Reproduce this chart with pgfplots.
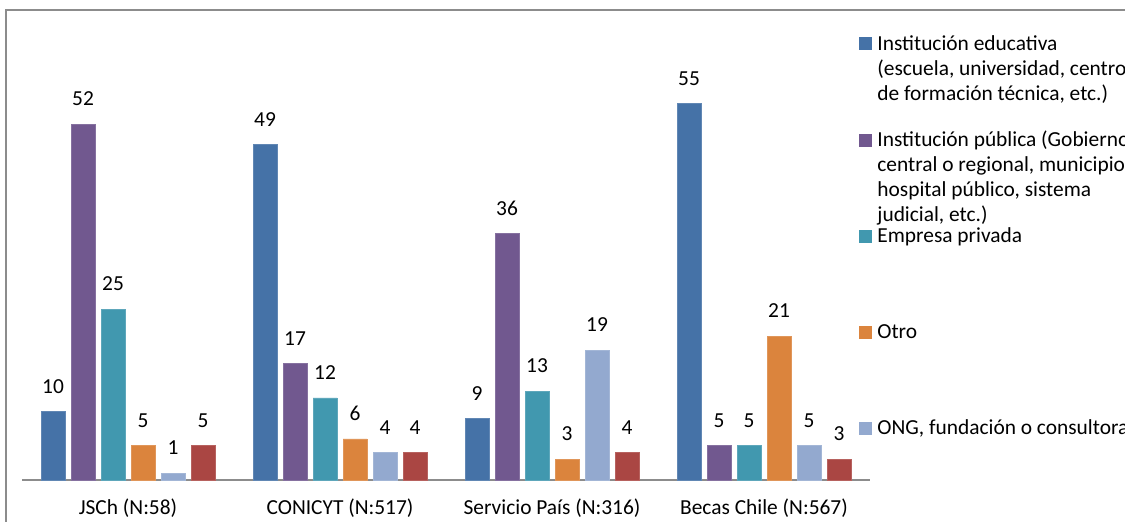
\documentclass[border=0pt]{standalone}
\usepackage{fontspec}
\setmainfont{Carlito}
\usepackage{pgfplots}
\pgfplotsset{compat=1.18}

\definecolor{cEdu}{HTML}{4572A7}
\definecolor{cPub}{HTML}{71588F}
\definecolor{cEmp}{HTML}{4198AF}
\definecolor{cOtro}{HTML}{DB843D}
\definecolor{cOng}{HTML}{93A9CF}
\definecolor{cRed}{HTML}{AA4643}

\begin{document}
\begin{tikzpicture}[font=\fontsize{10.7}{12.5}\selectfont]
\useasboundingbox (-11pt,-20.5pt) rectangle (551.5pt,240pt);
% chart frame (only left and top edges are visible)
\draw[black!45, line width=1pt] (-8pt,-25pt) -- (-8pt,235pt) -- (560pt,235pt);

\begin{axis}[
  at={(0,0)}, anchor=south west, scale only axis,
  width=424pt, height=205.2pt,
  xmin=-0.5, xmax=3.5, ymin=0, ymax=60,
  ybar=3pt, bar width=12pt,
  axis y line=none, axis x line*=bottom,
  x axis line style={black!45, line width=1pt},
  xtick=data, major tick length=0pt,
  xticklabels={JSCh (N:58), CONICYT (N:517), Servicio País (N:316), Becas Chile (N:567)},
  xticklabel style={yshift=-6pt},
  /pgf/number format/assume math mode=true,
  nodes near coords,
  every node near coord/.append style={anchor=south, inner sep=0pt, yshift=9pt, black},
  clip=false,
]
\addplot[fill=cEdu, draw=cEdu!85!white, line width=0.4pt]  coordinates {(0,10) (1,49) (2,9)  (3,55)};
\addplot[fill=cPub, draw=cPub!85!white, line width=0.4pt]  coordinates {(0,52) (1,17) (2,36) (3,5)};
\addplot[fill=cEmp, draw=cEmp!85!white, line width=0.4pt]  coordinates {(0,25) (1,12) (2,13) (3,5)};
\addplot[fill=cOtro, draw=cOtro!85!white, line width=0.4pt] coordinates {(0,5)  (1,6)  (2,3)  (3,21)};
\addplot[fill=cOng, draw=cOng!85!white, line width=0.4pt]  coordinates {(0,1)  (1,4)  (2,19) (3,5)};
\addplot[fill=cRed, draw=cRed!85!white, line width=0.4pt]  coordinates {(0,5)  (1,4)  (2,4)  (3,3)};
\end{axis}

% legend
\fill[cEdu]  (418.5pt,214.75pt) rectangle ++(6.5pt,6.5pt);
\node[anchor=base west, inner sep=0pt] at (427.5pt,214.6pt) {Institución educativa};
\node[anchor=base west, inner sep=0pt] at (427.5pt,202.1pt) {(escuela, universidad, centro};
\node[anchor=base west, inner sep=0pt] at (427.5pt,189.6pt) {de formación técnica, etc.)};

\fill[cPub]  (418.5pt,166.75pt) rectangle ++(6.5pt,6.5pt);
\node[anchor=base west, inner sep=0pt] at (427.5pt,166.6pt) {Institución pública (Gobierno};
\node[anchor=base west, inner sep=0pt] at (427.5pt,154.1pt) {central o regional, municipio,};
\node[anchor=base west, inner sep=0pt] at (427.5pt,141.6pt) {hospital público, sistema};
\node[anchor=base west, inner sep=0pt] at (427.5pt,129.1pt) {judicial, etc.)};

\fill[cEmp]  (418.5pt,118.75pt) rectangle ++(6.5pt,6.5pt);
\node[anchor=base west, inner sep=0pt] at (427.5pt,118.6pt) {Empresa privada};

\fill[cOtro] (418.5pt,70.75pt) rectangle ++(6.5pt,6.5pt);
\node[anchor=base west, inner sep=0pt] at (427.5pt,70.6pt) {Otro};

\fill[cOng]  (418.5pt,22.75pt) rectangle ++(6.5pt,6.5pt);
\node[anchor=base west, inner sep=0pt] at (427.5pt,22.6pt) {ONG, fundación o consultora};
\end{tikzpicture}
\end{document}
